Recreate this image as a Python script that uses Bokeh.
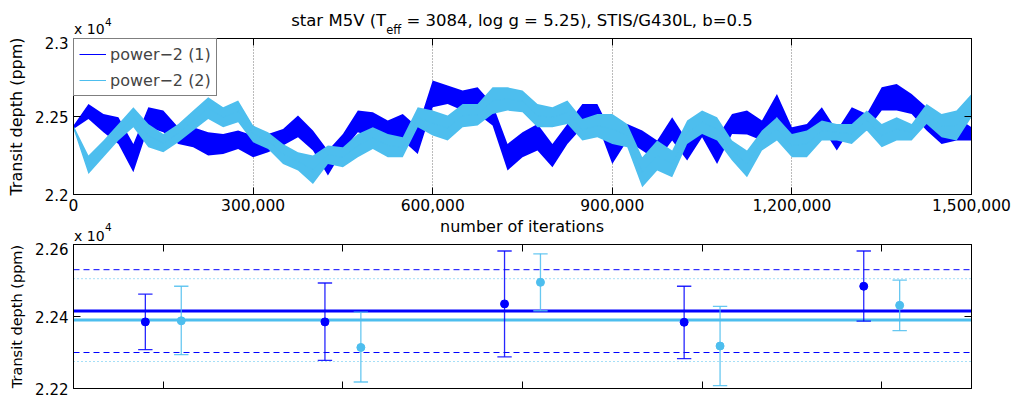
from bokeh.plotting import figure
from bokeh.models import (Range1d, FixedTicker, NumeralTickFormatter, LinearAxis,
                          Legend, LegendItem, Span, Div)
from bokeh.layouts import column
from bokeh.embed import file_html
from bokeh.resources import INLINE

DARK = "#0000ff"
LIGHT = "#4dbeee"
FONT = "DejaVu Sans"

# ---------------- data: top panel (MCMC chains, read as envelope per 25,000 iterations)
iterations = list(range(0, 1500001, 25000))
chain1_hi = [22442, 22580, 22516, 22495, 22324, 22559, 22538, 22431, 22431, 22399,
             22388, 22410, 22378, 22388, 22420, 22506, 22410, 22282, 22388, 22538,
             22527, 22474, 22516, 22431, 22730, 22698, 22666, 22687, 22580, 22324,
             22399, 22452, 22324, 22452, 22580, 22580, 22388, 22452, 22410, 22346,
             22495, 22346, 22495, 22367, 22516, 22538, 22474, 22644, 22431, 22452,
             22559, 22410, 22559, 22516, 22687, 22708, 22644, 22559, 22474, 22495,
             22431]
chain1_lo = [22420, 22484, 22399, 22324, 22143, 22431, 22399, 22324, 22303, 22250,
             22260, 22292, 22239, 22271, 22314, 22367, 22282, 22122, 22282, 22399,
             22367, 22346, 22346, 22260, 22559, 22580, 22538, 22516, 22442, 22154,
             22239, 22282, 22175, 22324, 22431, 22452, 22196, 22346, 22282, 22218,
             22346, 22218, 22367, 22196, 22388, 22384, 22346, 22495, 22282, 22303,
             22431, 22282, 22431, 22410, 22538, 22538, 22516, 22410, 22324, 22346,
             22346]
chain2_hi = [22442, 22250, 22346, 22452, 22559, 22452, 22388, 22452, 22538, 22623,
             22559, 22602, 22442, 22399, 22324, 22271, 22250, 22314, 22303, 22388,
             22431, 22388, 22367, 22559, 22538, 22506, 22580, 22580, 22687, 22687,
             22666, 22580, 22559, 22602, 22484, 22516, 22516, 22452, 22239, 22346,
             22282, 22474, 22538, 22495, 22346, 22282, 22410, 22495, 22388, 22410,
             22474, 22452, 22452, 22538, 22452, 22495, 22452, 22580, 22516, 22538,
             22644]
chain2_lo = [22420, 22132, 22239, 22346, 22431, 22303, 22271, 22335, 22410, 22484,
             22431, 22463, 22335, 22292, 22196, 22154, 22068, 22196, 22175, 22239,
             22292, 22239, 22239, 22431, 22378, 22346, 22431, 22442, 22516, 22538,
             22527, 22431, 22431, 22452, 22346, 22367, 22324, 22303, 22047, 22154,
             22111, 22324, 22388, 22346, 22218, 22111, 22282, 22346, 22239, 22239,
             22346, 22346, 22324, 22410, 22303, 22346, 22346, 22452, 22367, 22346,
             22495]
series_labels = ["power\u22122 (1)", "power\u22122 (2)"]

x_ticks = [0, 300000, 600000, 900000, 1200000, 1500000]
y_ticks_top = [22000, 22500, 23000]
y_labels_top = ["2.2", "2.25", "2.3"]

# ---------------- data: bottom panel (segment means with error bars)
groups = [1, 2, 3, 4, 5]
c1_val = [22385, 22385, 22435, 22384, 22484]
c1_up = [22462, 22493, 22582, 22484, 22582]
c1_dn = [22308, 22278, 22288, 22283, 22387]
c2_val = [22388, 22314, 22495, 22318, 22431]
c2_up = [22484, 22412, 22574, 22428, 22501]
c2_dn = [22294, 22218, 22416, 22208, 22361]
c1_mean, c1_sig = 22415, 115
c2_mean, c2_sig = 22390, 115
y_ticks_bot = [22200, 22400, 22600]
y_labels_bot = ["2.22", "2.24", "2.26"]

TITLE = ("star M5V (T<span style=\"font-size:11.5px;vertical-align:-8px;\">eff</span>"
         " = 3084, log g = 5.25), STIS/G430L, b=0.5")
XLABEL = "number of iterations"
YLABEL = "Transit depth (ppm)"

# ---------------- layout constants
W = 1019
ML, MR = 73, 48
TOP_DIV_H = 36          # title strip
P1_H = 180              # frame 156 px
MID_DIV_H = 26          # x-axis title strip + multiplier of lower panel
P2_H = 159              # frame 144 px


def base_axis(ax, tick_size="15px", label_size="16px"):
    ax.major_tick_in = 7
    ax.major_tick_out = 0
    ax.minor_tick_in = 0
    ax.minor_tick_out = 0
    ax.axis_line_color = "black"
    ax.major_tick_line_color = "black"
    ax.major_label_text_font = FONT
    ax.major_label_text_font_size = tick_size
    ax.major_label_text_color = "black"
    ax.axis_label_text_font = FONT
    ax.axis_label_text_font_size = label_size
    ax.axis_label_text_font_style = "normal"
    ax.axis_label_text_color = "black"


def mirror_axis(p, ticks, side):
    ax = LinearAxis(ticker=FixedTicker(ticks=ticks))
    base_axis(ax)
    ax.major_label_text_font_size = "0px"
    ax.major_label_standoff = 0
    p.add_layout(ax, side)


def span_html(left, top, size, text, extra=""):
    return ('<span style="position:absolute;left:%spx;top:%spx;font-size:%spx;'
            'white-space:nowrap;%s">%s</span>' % (left, top, size, extra, text))


def strip(height, inner):
    html = ('<div style="position:relative;width:%dpx;height:%dpx;overflow:hidden;'
            'font-family:\'DejaVu Sans\';color:#000;">%s</div>' % (W, height, inner))
    return Div(text=html, width=W, height=height, margin=(0, 0, 0, 0))


centered = "width:%dpx;padding-left:25px;box-sizing:border-box;text-align:center;" % W

# ---------------- title strip
top_div = strip(TOP_DIV_H,
                span_html(0, 9, 16.5, TITLE, centered)
                + span_html(74, 19.3, 14, "x 10")
                + span_html(105, 14.5, 10.5, "4"))

# ================= top panel =================
p1 = figure(width=W, height=P1_H, x_range=Range1d(0, 1.5e6), y_range=Range1d(22000, 23000),
            output_backend="svg", toolbar_location=None,
            min_border_left=ML, min_border_right=MR, min_border_top=2, min_border_bottom=22)
p1.outline_line_color = "black"
p1.background_fill_color = "white"
p1.border_fill_color = "white"

p1.varea(x=iterations, y1=chain1_lo, y2=chain1_hi, fill_color=DARK, fill_alpha=1)
mid1 = [(a + b) / 2 for a, b in zip(chain1_lo, chain1_hi)]
r1 = p1.line(iterations, mid1, line_color=DARK, line_width=1)
p1.varea(x=iterations, y1=chain2_lo, y2=chain2_hi, fill_color=LIGHT, fill_alpha=1)
mid2 = [(a + b) / 2 for a, b in zip(chain2_lo, chain2_hi)]
r2 = p1.line(iterations, mid2, line_color=LIGHT, line_width=1)

xa = p1.xaxis[0]
base_axis(xa, "15.5px")
xa.ticker = FixedTicker(ticks=x_ticks)
xa.formatter = NumeralTickFormatter(format="0,0")
xa.major_label_standoff = 4

ya = p1.yaxis[0]
base_axis(ya)
ya.ticker = FixedTicker(ticks=y_ticks_top)
ya.major_label_overrides = {t: s for t, s in zip(y_ticks_top, y_labels_top)}
ya.major_label_standoff = 5
ya.axis_label = YLABEL
ya.axis_label_standoff = 6

mirror_axis(p1, x_ticks, "above")
mirror_axis(p1, y_ticks_top, "right")

p1.xgrid.ticker = FixedTicker(ticks=x_ticks)
p1.xgrid.grid_line_color = "#777777"
p1.xgrid.grid_line_dash = "1 2"
p1.xgrid.grid_line_width = 1
p1.ygrid.visible = False

legend = Legend(items=[LegendItem(label=series_labels[0], renderers=[r1]),
                       LegendItem(label=series_labels[1], renderers=[r2])],
                location="top_left", margin=0, padding=5, spacing=6,
                glyph_width=27, glyph_height=20, label_height=20, label_standoff=4,
                label_text_font=FONT, label_text_font_size="16px",
                border_line_color="black", border_line_width=1,
                background_fill_color="white", background_fill_alpha=1)
p1.add_layout(legend)

# ---------------- strip with x-axis title of the upper panel and multiplier of the lower one
mid_div = strip(MID_DIV_H,
                span_html(0, 0, 16, XLABEL, centered)
                + span_html(74, 9.5, 14, "x 10")
                + span_html(105, 3.5, 10.5, "4"))

# ================= bottom panel =================
p2 = figure(width=W, height=P2_H, x_range=Range1d(0.5, 5.5), y_range=Range1d(22200, 22600),
            output_backend="svg", toolbar_location=None,
            min_border_left=ML, min_border_right=MR, min_border_top=2, min_border_bottom=13)
p2.outline_line_color = "black"
p2.background_fill_color = "white"
p2.border_fill_color = "white"
p2.xgrid.visible = False
p2.ygrid.visible = False

for loc, col, wdt, dash in [(c1_mean + c1_sig, DARK, 1, "6 4"), (c1_mean - c1_sig, DARK, 1, "6 4"),
                            (c2_mean + c2_sig, LIGHT, 1, "1 3"), (c2_mean - c2_sig, LIGHT, 1, "1 3"),
                            (c1_mean, DARK, 3, "solid"), (c2_mean, LIGHT, 3, "solid")]:
    sp = Span(location=loc, dimension="width", line_color=col, line_width=wdt, line_dash=dash)
    sp.level = "underlay"
    p2.add_layout(sp)

cap = 0.04
for off, col, val, up, dn in [(-0.1, DARK, c1_val, c1_up, c1_dn), (0.1, LIGHT, c2_val, c2_up, c2_dn)]:
    xs = [g + off for g in groups]
    p2.segment(x0=xs, y0=dn, x1=xs, y1=up, line_color=col, line_width=1.3, line_alpha=0.85)
    p2.segment(x0=[x - cap for x in xs], y0=up, x1=[x + cap for x in xs], y1=up,
               line_color=col, line_width=1.3, line_alpha=0.85)
    p2.segment(x0=[x - cap for x in xs], y0=dn, x1=[x + cap for x in xs], y1=dn,
               line_color=col, line_width=1.3, line_alpha=0.85)
    p2.scatter(xs, val, size=8, fill_color=col, line_color=col)

xb = p2.xaxis[0]
base_axis(xb)
xb.ticker = FixedTicker(ticks=groups)
xb.major_label_text_font_size = "0px"
xb.major_label_standoff = 0

yb = p2.yaxis[0]
base_axis(yb, "15px", "14.5px")
yb.ticker = FixedTicker(ticks=y_ticks_bot)
yb.major_label_overrides = {t: s for t, s in zip(y_ticks_bot, y_labels_bot)}
yb.major_label_standoff = 5
yb.axis_label = YLABEL
yb.axis_label_standoff = 7

mirror_axis(p2, groups, "above")
mirror_axis(p2, y_ticks_bot, "right")

layout = column(top_div, p1, mid_div, p2, spacing=0)
open("out.html", "w").write(file_html(layout, INLINE))
